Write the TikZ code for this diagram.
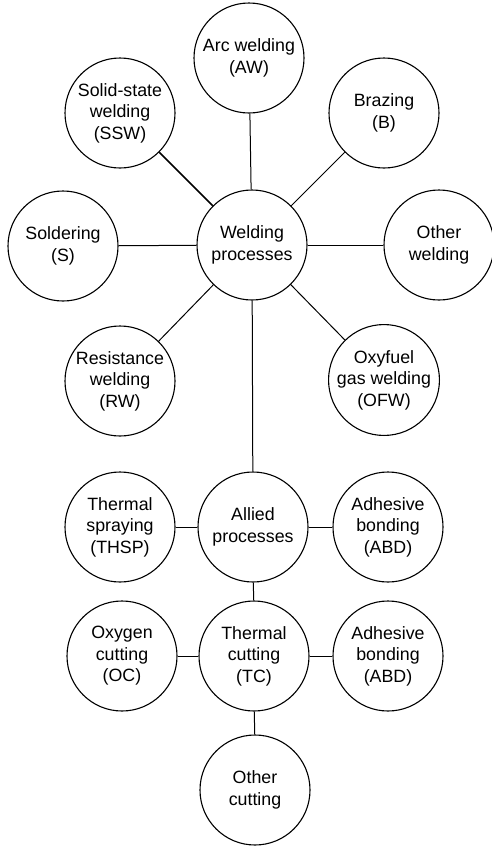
\documentclass[tikz,border=0pt]{standalone}
\usepackage{fontspec}
\setmainfont{Liberation Sans}
\begin{document}
\begin{tikzpicture}[x=1pt,y=-1pt,
  proc/.style={circle,draw,line width=1.1pt,minimum size=110pt,inner sep=0pt,
    align=center,font=\fontsize{17.8}{21.5}\selectfont},
  link/.style={line width=1pt}]
  \useasboundingbox (0,0) rectangle (492,847);
  % welding processes
  \node[proc] (wp) at (252,245) {Welding\\processes};
  \node[proc] (aw) at (249,58) {Arc welding\\(AW)};
  \node[proc] (ssw) at (120,113) {Solid-state\\welding\\(SSW)};
  \node[proc] (b) at (384,113) {Brazing\\(B)};
  \node[proc] (s) at (63,246) {Soldering\\(S)};
  \node[proc] (ow) at (439,245) {Other\\welding};
  \node[proc] (rw) at (120,381) {Resistance\\welding\\(RW)};
  \node[proc] (ofw) at (384,380) {Oxyfuel\\gas welding\\(OFW)};
  \draw[link] (wp) -- (aw);
  \draw[link,line width=1.6pt] (wp) -- (ssw);
  \draw[link] (wp) -- (b);
  \draw[link] (wp) -- (s);
  \draw[link] (wp) -- (ow);
  \draw[link] (wp) -- (rw);
  \draw[link] (wp) -- (ofw);
  % allied processes
  \node[proc] (ap) at (253,527) {Allied\\processes};
  \node[proc] (thsp) at (120,527) {Thermal\\spraying\\(THSP)};
  \node[proc] (abd) at (388,527) {Adhesive\\bonding\\(ABD)};
  \node[proc] (tc) at (254,656) {Thermal\\cutting\\(TC)};
  \node[proc] (oc) at (122,656) {Oxygen\\cutting\\(OC)};
  \node[proc] (abdb) at (388,656) {Adhesive\\bonding\\(ABD)};
  \node[proc] (oct) at (255,790) {Other\\cutting};
  \draw[link] (wp) -- (ap);
  \draw[link] (ap) -- (thsp);
  \draw[link] (ap) -- (abd);
  \draw[link] (ap) -- (tc);
  \draw[link] (tc) -- (oc);
  \draw[link] (tc) -- (abdb);
  \draw[link] (tc) -- (oct);
\end{tikzpicture}
\end{document}
